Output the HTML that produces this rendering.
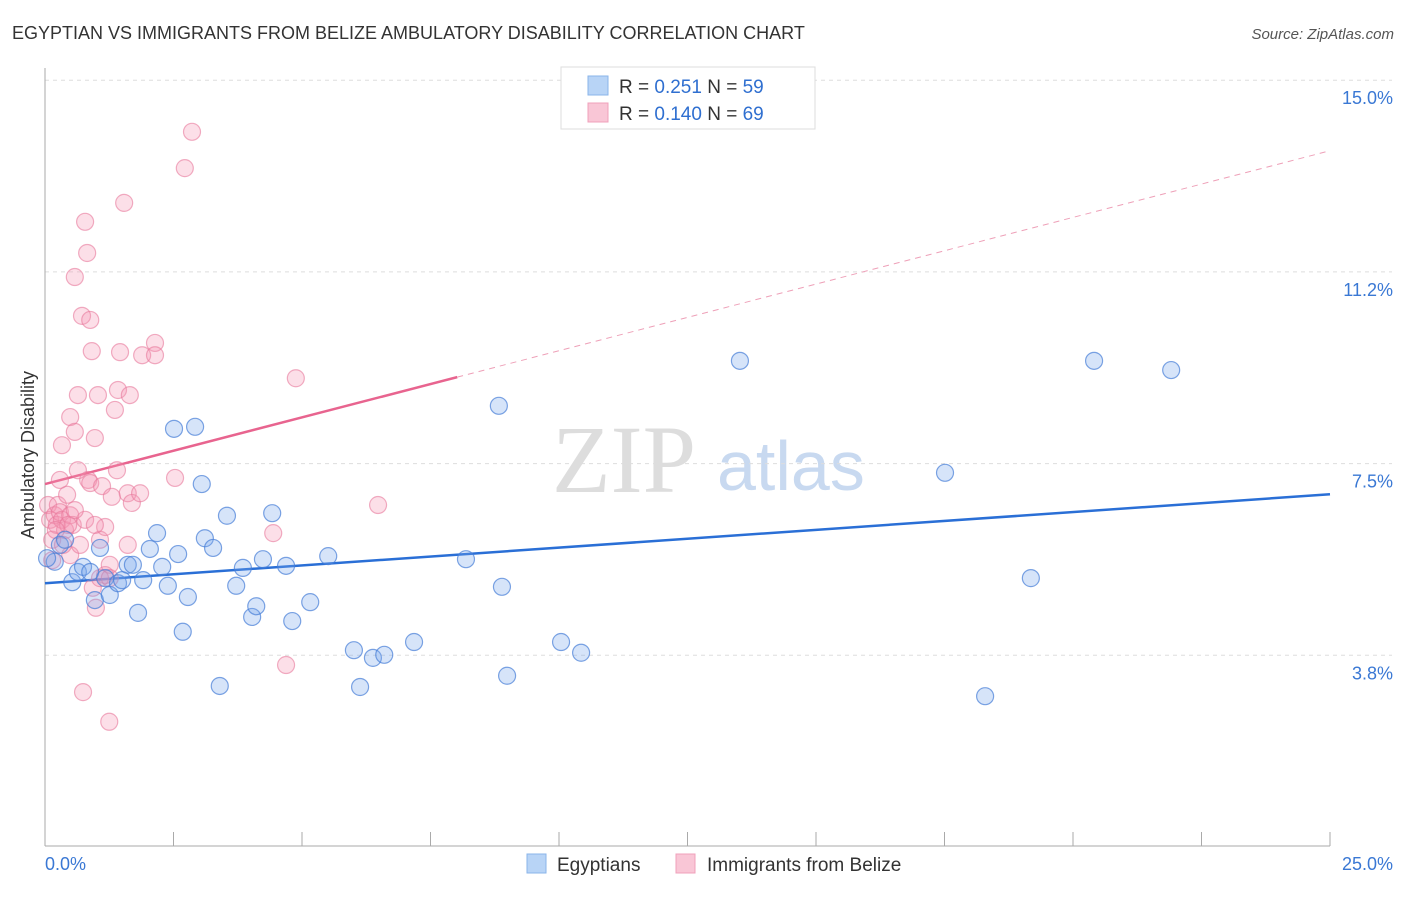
<!DOCTYPE html>
<html><head><meta charset="utf-8"><style>
body{margin:0;background:#fff;font-family:"Liberation Sans",sans-serif}
svg text{font-family:"Liberation Sans",sans-serif}
</style></head><body>
<svg width="1406" height="892" xmlns="http://www.w3.org/2000/svg">
<text x="12" y="39" font-size="18" fill="#333">EGYPTIAN VS IMMIGRANTS FROM BELIZE AMBULATORY DISABILITY CORRELATION CHART</text>
<text x="1394" y="39" font-size="15" fill="#555" text-anchor="end" font-style="italic">Source: ZipAtlas.com</text>
<g>
<text x="552" y="492" font-size="96" fill="#ddd" font-family="Liberation Serif" style="font-family:'Liberation Serif',serif">ZIP</text>
<text x="717" y="490" font-size="70" fill="#c8d9f0">atlas</text>
</g>
<g id="grid"></g>
<g id="axes"></g>
<g id="trend"></g>
<g id="pts"></g>
<text transform="translate(34,455) rotate(-90)" font-size="18" fill="#333" text-anchor="middle">Ambulatory Disability</text>
<g>
<rect x="561" y="67" width="254" height="62" fill="#fff" stroke="#ddd"/>
<rect x="588" y="76" width="20" height="19" fill="#b8d4f6" stroke="#8ab4ea"/>
<rect x="588" y="103" width="20" height="19" fill="#f9c6d6" stroke="#f0a0bb"/>
<text x="619" y="93" font-size="19" fill="#333">R = <tspan fill="#2f6fd0">0.251</tspan>   N = <tspan fill="#2f6fd0">59</tspan></text>
<text x="619" y="120" font-size="19" fill="#333">R = <tspan fill="#2f6fd0">0.140</tspan>   N = <tspan fill="#2f6fd0">69</tspan></text>
</g>
<g>
<rect x="527" y="854" width="19" height="19" fill="#b8d4f6" stroke="#8ab4ea"/>
<text x="557" y="871" font-size="19" fill="#333">Egyptians</text>
<rect x="676" y="854" width="19" height="19" fill="#f9c6d6" stroke="#f0a0bb"/>
<text x="707" y="871" font-size="19" fill="#333">Immigrants from Belize</text>
</g>
</svg>
<script>
const blueX=[0.19,0.29,0.39,0.53,0.64,0.74,0.88,0.97,1.07,1.17,1.26,1.42,1.50,1.61,1.71,1.81,1.91,2.04,2.18,2.28,2.39,2.51,2.59,2.68,2.78,2.92,3.05,3.11,3.27,3.40,3.54,3.72,3.85,4.03,4.11,4.24,4.42,4.69,4.81,5.16,5.51,6.01,6.13,6.38,6.60,7.18,8.19,8.83,8.89,8.99,10.04,10.43,13.52,17.51,18.29,19.18,20.41,21.91,0.04];
const blueY=[5.58,5.91,6.01,5.18,5.38,5.48,5.38,4.83,5.85,5.26,4.93,5.16,5.22,5.52,5.52,4.58,5.22,5.83,6.14,5.48,5.11,8.18,5.73,4.21,4.89,8.22,7.10,6.04,5.85,3.15,6.48,5.11,5.46,4.50,4.71,5.63,6.53,5.50,4.42,4.79,5.69,3.85,3.13,3.70,3.76,4.01,5.63,8.63,5.09,3.35,4.01,3.80,9.51,7.32,2.95,5.26,9.51,9.33,5.65];
const pinkX=[0.06,0.10,0.14,0.19,0.23,0.25,0.29,0.33,0.39,0.43,0.49,0.49,0.54,0.33,0.29,0.49,0.58,0.64,0.72,0.78,0.58,0.82,0.88,0.91,0.97,1.03,0.84,0.88,1.07,1.11,1.17,1.17,1.30,1.36,1.40,1.42,1.46,1.54,1.61,1.65,1.69,1.85,1.89,2.14,2.14,2.53,2.72,2.86,4.88,6.48,4.44,4.69,0.74,1.25,0.99,0.93,1.26,1.61,0.68,0.78,0.97,1.07,1.26,0.64,0.45,0.21,0.14,0.58,0.35];
const pinkY=[6.69,6.40,6.01,6.49,6.30,6.69,6.55,6.40,6.20,6.89,6.49,5.71,6.30,7.86,7.18,8.41,8.12,8.84,10.39,12.23,11.15,11.62,10.31,9.70,8.00,8.84,7.18,7.12,6.01,7.06,5.32,6.26,6.85,8.55,7.37,8.94,9.68,12.60,6.92,8.84,6.73,6.92,9.62,9.86,9.62,7.22,13.28,13.99,9.17,6.69,6.14,3.56,3.03,2.45,4.68,5.07,5.52,5.91,5.91,6.40,6.30,5.26,5.26,7.37,6.30,6.20,5.61,6.59,5.91];
const yTicks=[15.0,11.25,7.5,3.75];
const yTickLabels=["15.0%","11.2%","7.5%","3.8%"];
const xTickLabels=["0.0%","25.0%"];
const blueTrend=[5.16,6.90]; // y at x=0 and x=25
const pinkTrend=[7.10,13.62]; // y at x=0 and x=25
const pinkSolidEnd=8.02;
const NS="http://www.w3.org/2000/svg";
const X=v=>45+v/25*1285, Y=v=>847-v/3.75*191.7;
function mk(tag,attrs,parent){const e=document.createElementNS(NS,tag);for(const k in attrs)e.setAttribute(k,attrs[k]);parent.appendChild(e);return e;}
const grid=document.getElementById('grid'),axes=document.getElementById('axes'),tr=document.getElementById('trend'),pts=document.getElementById('pts');
yTicks.forEach((t,i)=>{
 const l=mk('line',{x1:45,x2:1392,y1:Y(t),y2:Y(t),stroke:'#ddd','stroke-dasharray':'4,4'},grid);
 
 
 const tx=mk('text',{x:1393,y:Y(t)+24,'font-size':18,fill:'#3a78d4','text-anchor':'end'},grid);
 tx.textContent=yTickLabels[i];
 
 
});
const ya=mk('line',{x1:45,x2:45,y1:68,y2:846,stroke:'#aaa'},axes);


const xa=mk('line',{x1:45,x2:1330,y1:846,y2:846,stroke:'#aaa'},axes);


for(let i=0;i<=10;i++){const t=mk('line',{x1:X(i*2.5),x2:X(i*2.5),y1:832,y2:846,stroke:'#aaa'},axes);
 
 }
[[0,'start',45],[25,'end',1393]].forEach((d,i)=>{const t=mk('text',{x:d[2],y:870,'font-size':18,fill:'#3a78d4','text-anchor':d[1]},axes);t.textContent=xTickLabels[i];
 
 });
const pt=x=>pinkTrend[0]+(pinkTrend[1]-pinkTrend[0])*x/25;
let l=mk('line',{x1:X(0),y1:Y(blueTrend[0]),x2:X(25),y2:Y(blueTrend[1]),stroke:'#2a6fd6','stroke-width':2.5},tr);


l=mk('line',{x1:X(0),y1:Y(pt(0)),x2:X(pinkSolidEnd),y2:Y(pt(pinkSolidEnd)),stroke:'#e8648f','stroke-width':2.5},tr);


l=mk('line',{x1:X(pinkSolidEnd),y1:Y(pt(pinkSolidEnd)),x2:X(25),y2:Y(pt(25)),stroke:'#eea0b8','stroke-width':1,'stroke-dasharray':'6,5'},tr);


pinkX.forEach((x,i)=>{const c=mk('circle',{cx:X(x),cy:Y(pinkY[i]),r:8.5,fill:'rgba(244,150,180,0.3)',stroke:'rgba(232,120,155,0.6)','stroke-width':1.2},pts);
 
 });
blueX.forEach((x,i)=>{const c=mk('circle',{cx:X(x),cy:Y(blueY[i]),r:8.5,fill:'rgba(120,165,235,0.3)',stroke:'rgba(70,125,215,0.7)','stroke-width':1.2},pts);
 
 });
</script>
</body></html>
